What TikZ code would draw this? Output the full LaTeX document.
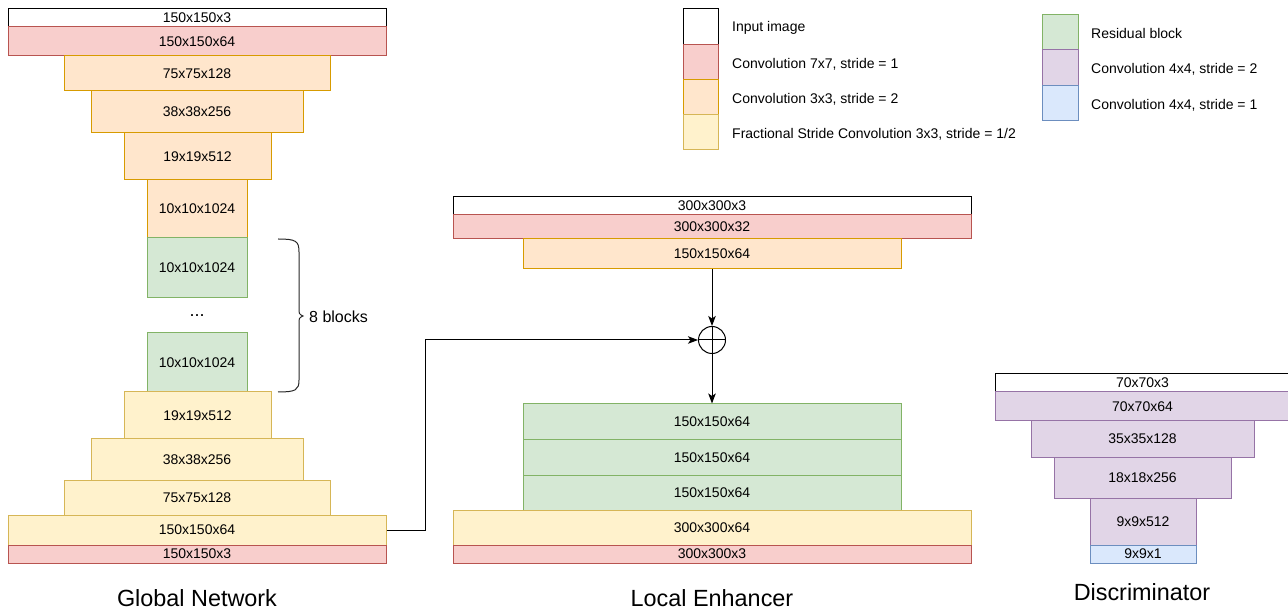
\documentclass[tikz,border=0pt]{standalone}
\usepackage{fontspec}
\setmainfont{Liberation Sans}
\usetikzlibrary{arrows.meta}
\definecolor{redF}{HTML}{F8CECC}\definecolor{redD}{HTML}{B85450}
\definecolor{orgF}{HTML}{FFE6CC}\definecolor{orgD}{HTML}{D79B00}
\definecolor{yelF}{HTML}{FFF2CC}\definecolor{yelD}{HTML}{D6B656}
\definecolor{grnF}{HTML}{D5E8D4}\definecolor{grnD}{HTML}{82B366}
\definecolor{purF}{HTML}{E1D5E7}\definecolor{purD}{HTML}{9673A6}
\definecolor{bluF}{HTML}{DAE8FC}\definecolor{bluD}{HTML}{6C8EBF}
\newcommand\lblfont{\fontsize{14}{16}\selectfont}
\newcommand\ttlfont{\fontsize{23.4}{26}\selectfont}
\newcommand\lay[7]{%
  \pgfmathsetmacro\layX{(#3+#4)/2}\pgfmathsetmacro\layY{(#5+#6)/2}%
  \pgfmathsetmacro\layW{#4-#3}\pgfmathsetmacro\layH{#6-#5}%
  \node[#1, minimum width=\layW pt, minimum height=\layH pt] (#2) at (\layX,\layY) {\raisebox{-1pt}{#7}};}
\tikzset{
  base/.style={rectangle, inner sep=0pt, font=\lblfont, line width=1pt},
  inbox/.style={base, draw=black, fill=white},
  redbox/.style={base, draw=redD, fill=redF},
  orgbox/.style={base, draw=orgD, fill=orgF},
  yelbox/.style={base, draw=yelD, fill=yelF},
  grnbox/.style={base, draw=grnD, fill=grnF},
  purbox/.style={base, draw=purD, fill=purF},
  blubox/.style={base, draw=bluD, fill=bluF},
  legtext/.style={anchor=west, inner sep=0pt, font=\lblfont},
  title/.style={inner sep=0pt, font=\ttlfont},
  conn/.style={line width=1pt, -{Stealth[length=10pt,width=7.5pt,inset=2.5pt]}},
}
\begin{document}
\begin{tikzpicture}[x=1pt,y=-1pt]
\useasboundingbox (0,0) rectangle (1288,609);
% Global network
\lay{inbox}{g1}{8}{386}{9}{27}{150x150x3}
\lay{redbox}{g2}{8}{386}{27}{56}{150x150x64}
\lay{orgbox}{g3}{64}{330}{56}{91}{75x75x128}
\lay{orgbox}{g4}{91}{303}{91}{133}{38x38x256}
\lay{orgbox}{g5}{124}{271}{133}{180}{19x19x512}
\lay{orgbox}{g6}{147}{247}{180}{238}{10x10x1024}
\lay{grnbox}{g7}{147}{247}{238}{298}{10x10x1024}
\node[font=\fontsize{18}{20}\selectfont, inner sep=0pt] (dots) at (197,316) {...};
\lay{grnbox}{g8}{147}{247}{333}{392}{10x10x1024}
\lay{yelbox}{g9}{124}{271}{392}{439}{19x19x512}
\lay{yelbox}{g10}{91}{303}{439}{480}{38x38x256}
\lay{yelbox}{g11}{64}{330}{480}{515}{75x75x128}
\lay{yelbox}{g12}{8}{386}{515}{545}{150x150x64}
\lay{redbox}{g13}{8}{386}{545}{563}{150x150x3}
\draw[line width=1pt, black!85] (278,239) .. controls (296,239) and (299,241) .. (299,252) -- (299,308) .. controls (299,314) .. (303,316) .. controls (299,318) .. (299,324) -- (299,380) .. controls (299,390) and (296,392) .. (278,392);
\node[anchor=west, inner sep=0pt, font=\fontsize{16}{18}\selectfont] (blk) at (309,317) {8 blocks};
\node[title] (tg) at (197,598) {Global Network};
% Local enhancer
\lay{inbox}{l1}{453}{971}{197}{215}{300x300x3}
\lay{redbox}{l2}{453}{971}{215}{239}{300x300x32}
\lay{orgbox}{l3}{523}{901}{239}{269}{150x150x64}
\node[circle, draw, line width=1pt, minimum size=27pt, inner sep=0pt] (plus) at (712,340) {};
\draw[line width=1pt] (plus.north) -- (plus.south) (plus.west) -- (plus.east);
\lay{grnbox}{l4}{523}{901}{404}{440}{150x150x64}
\lay{grnbox}{l5}{523}{901}{440}{475}{150x150x64}
\lay{grnbox}{l6}{523}{901}{475}{510}{150x150x64}
\lay{yelbox}{l7}{453}{971}{510}{545}{300x300x64}
\lay{redbox}{l8}{453}{971}{545}{563}{300x300x3}
\node[title] (tl) at (712,598) {Local Enhancer};
\draw[conn] (l3.south) -- (plus.north);
\draw[conn] (plus.south) -- (l4.north);
\draw[conn] (g12.east) -- ++(39,0) |- (plus.west);
% Discriminator
\lay{inbox}{d1}{995}{1290}{374}{392}{70x70x3}
\lay{purbox}{d2}{995}{1290}{392}{421}{70x70x64}
\lay{purbox}{d3}{1031}{1254}{421}{457}{35x35x128}
\lay{purbox}{d4}{1054}{1231}{457}{498}{18x18x256}
\lay{purbox}{d5}{1090}{1196}{498}{545}{9x9x512}
\lay{blubox}{d6}{1090}{1196}{545}{563}{9x9x1}
\node[title] (td) at (1142,592) {Discriminator};
% Legend
\lay{inbox}{k1}{683}{718}{9}{45}{}
\lay{redbox}{k2}{683}{718}{45}{80}{}
\lay{orgbox}{k3}{683}{718}{80}{115}{}
\lay{yelbox}{k4}{683}{718}{115}{150}{}
\node[legtext] (t1) at (732,28) {Input image};
\node[legtext] (t2) at (732,64) {Convolution 7x7, stride = 1};
\node[legtext] (t3) at (732,99) {Convolution 3x3, stride = 2};
\node[legtext] (t4) at (732,134) {Fractional Stride Convolution 3x3, stride = 1/2};
\lay{grnbox}{k5}{1042}{1078}{15}{50}{}
\lay{purbox}{k6}{1042}{1078}{50}{86}{}
\lay{blubox}{k7}{1042}{1078}{86}{121}{}
\node[legtext] (t5) at (1091,34) {Residual block};
\node[legtext] (t6) at (1091,69) {Convolution 4x4, stride = 2};
\node[legtext] (t7) at (1091,105) {Convolution 4x4, stride = 1};
\end{tikzpicture}
\end{document}
